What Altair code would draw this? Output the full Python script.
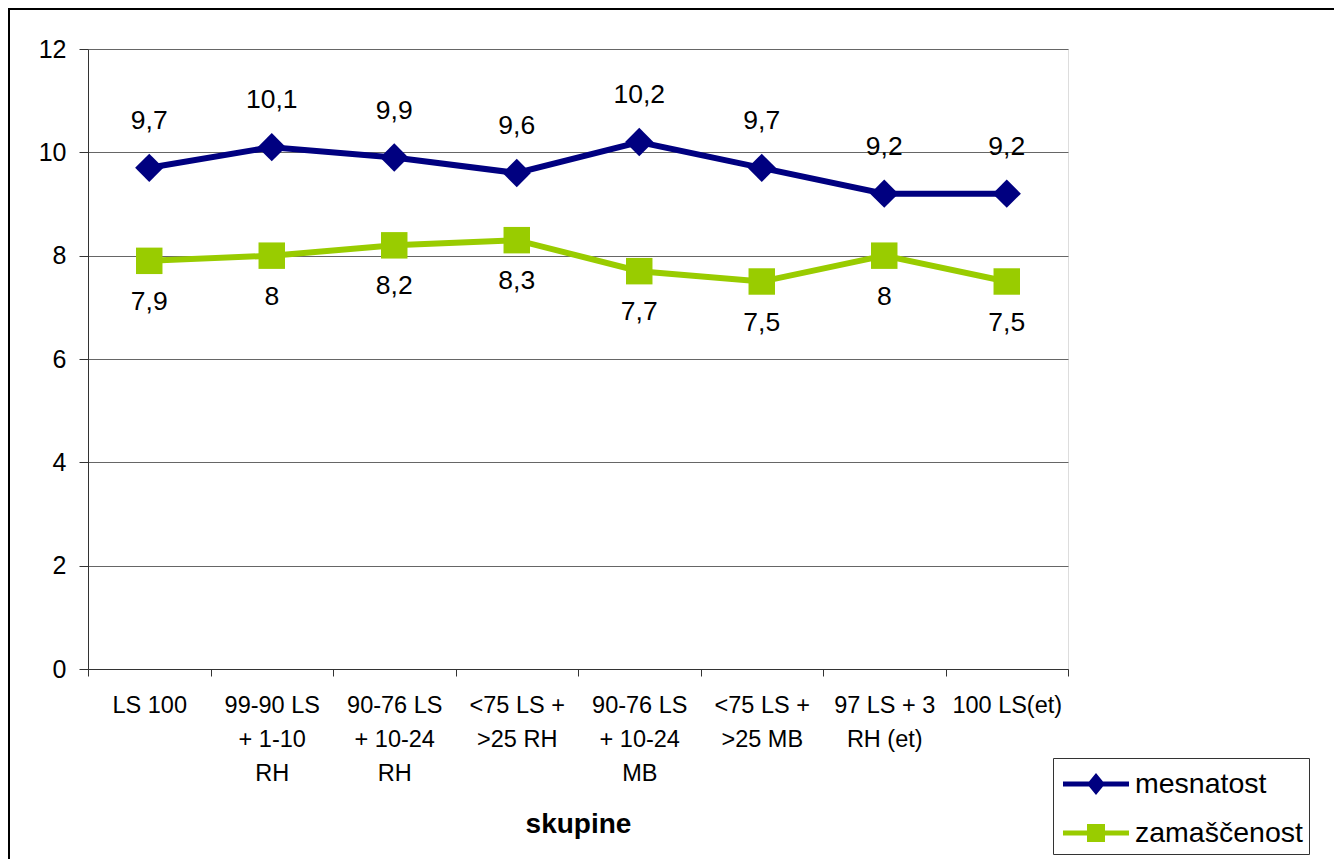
import altair as alt
import pandas as pd

categories = [
    "LS 100",
    "99-90 LS\n+   1-10\nRH",
    "90-76 LS\n+ 10-24\nRH",
    "<75 LS +\n>25 RH",
    "90-76 LS\n+ 10-24\nMB",
    "<75 LS +\n>25 MB",
    "97 LS + 3\nRH (et)",
    "100 LS(et)",
]
mesnatost = [9.7, 10.1, 9.9, 9.6, 10.2, 9.7, 9.2, 9.2]
zamascenost = [7.9, 8.0, 8.2, 8.3, 7.7, 7.5, 8.0, 7.5]
series = ["mesnatost", "zamaščenost"]
y_ticks = [0, 2, 4, 6, 8, 10, 12]

NAVY = "#000080"
GREEN = "#99CC00"
FONT = "Liberation Sans"

rows = []
for c, v in zip(categories, mesnatost):
    rows.append({"kat": c, "serija": series[0], "vrednost": v})
for c, v in zip(categories, zamascenost):
    rows.append({"kat": c, "serija": series[1], "vrednost": v})
df = pd.DataFrame(rows)

# legend symbols: line with marker (custom SVG paths)
leg_paths = [
    "M-1,-0.13H2.3V0.13H-1Z M0.65,-0.55L1.1,0L0.65,0.55L0.2,0Z",
    "M-1,-0.13H2.3V0.13H-1Z M0.2,-0.45H1.1V0.45H0.2Z",
]

x_enc = alt.X(
    "kat:N",
    sort=categories,
    bandPosition=0.5,
    scale=alt.Scale(type="band", domain=categories, paddingInner=0, paddingOuter=0),
    axis=alt.Axis(
        title="skupine",
        titleFont=FONT,
        titleFontSize=28,
        titleFontWeight="bold",
        titleColor="black",
        titlePadding=26,
        labelAngle=0,
        labelExpr="split(datum.label, '\\n')",
        labelFont=FONT,
        labelFontSize=23.5,
        labelColor="black",
        labelLineHeight=34,
        labelPadding=17,
        labelBaseline="top",
        tickBand="extent",
        tickSize=7,
        tickColor="#333333",
        domainColor="#333333",
        grid=False,
    ),
)
y_enc = alt.Y(
    "vrednost:Q",
    scale=alt.Scale(domain=[0, 12], nice=False, zero=True),
    axis=alt.Axis(
        title=None,
        values=y_ticks,
        labelFont=FONT,
        labelFontSize=25,
        labelColor="black",
        labelPadding=13,
        tickSize=9,
        tickColor="#333333",
        domainColor="#333333",
        grid=True,
        gridColor="#666666",
        gridWidth=1,
    ),
)

base = alt.Chart(df).encode(x=x_enc, y=y_enc)
only_m = alt.datum.serija == series[0]
only_z = alt.datum.serija == series[1]

line_m = base.transform_filter(only_m).mark_line(strokeWidth=6, color=NAVY)
line_z = base.transform_filter(only_z).mark_line(strokeWidth=6, color=GREEN)

pts_m = base.transform_filter(only_m).mark_point(
    shape="diamond", size=800, filled=True, opacity=1, color=NAVY
)
pts_z = base.transform_filter(only_z).mark_point(
    shape="square", size=700, filled=True, opacity=1, color=GREEN
)

lab_m = (
    base.transform_filter(only_m)
    .transform_calculate(txt="replace(format(datum.vrednost, '.1~f'), '.', ',')")
    .mark_text(dy=-47, font=FONT, fontSize=26.5, color="black", baseline="middle")
    .encode(text="txt:N")
)
lab_z = (
    base.transform_filter(only_z)
    .transform_calculate(txt="replace(format(datum.vrednost, '.1~f'), '.', ',')")
    .mark_text(dy=41, font=FONT, fontSize=26.5, color="black", baseline="middle")
    .encode(text="txt:N")
)

# legend-only layer: no marks drawn (filtered out), scales have explicit domains
legend_layer = (
    base.transform_filter("false")
    .mark_point(filled=True, opacity=1)
    .encode(
        color=alt.Color(
            "serija:N",
            scale=alt.Scale(domain=series, range=[NAVY, GREEN]),
            legend=alt.Legend(
                title=None,
                orient="none",
                legendX=965,
                legendY=709,
                labelFont=FONT,
                labelFontSize=28.5,
                labelColor="black",
                labelLimit=400,
                symbolSize=1600,
                symbolOpacity=1,
                symbolStrokeWidth=0,
                symbolOffset=4,
                labelOffset=32,
                rowPadding=14,
                padding=6,
                strokeColor="#333333",
                fillColor="white",
            ),
        ),
        shape=alt.Shape("serija:N", scale=alt.Scale(domain=series, range=leg_paths)),
    )
)

frame_src = alt.Chart(pd.DataFrame({"k": [0]}))
frame_left = frame_src.mark_rule(color="black", strokeWidth=2).encode(
    x=alt.value(-79), y=alt.value(-41), y2=alt.value(810)
)
frame_top = frame_src.mark_rule(color="black", strokeWidth=2).encode(
    x=alt.value(-80), x2=alt.value(1246), y=alt.value(-40)
)

chart = (
    alt.layer(frame_left, frame_top, line_m, line_z, pts_m, pts_z, lab_m, lab_z, legend_layer)
    .properties(
        width=980,
        height=620,
        autosize=alt.AutoSizeParams(type="none"),
        padding={"left": 80, "top": 41, "right": 266, "bottom": 190},
        background="white",
    )
    .configure_view(stroke="#808080", strokeWidth=1)
    .configure(font=FONT)
)

chart.save("out.html", embed_options={"renderer": "svg", "actions": False})
